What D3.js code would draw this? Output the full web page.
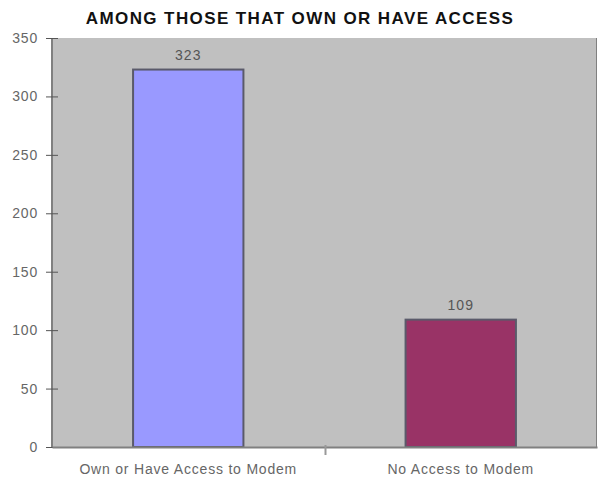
<!DOCTYPE html>
<html lang="en">
<head>
    <meta charset="UTF-8">
    <title>Among Those That Own or Have Access</title>
    <script src="https://d3js.org/d3.v7.min.js"></script>
    <style>
        body { margin: 0; background: #fff; font-family: Arial, "Liberation Sans", sans-serif; }
    </style>
</head>
<body>
    <div id="chart"></div>
    <script>
        // data
        const categories = ["Own or Have Access to Modem", "No Access to Modem"];
        const values = [323, 109];
        const colors = ["#9999ff", "#993366"];
        const yTicks = [0, 50, 100, 150, 200, 250, 300, 350];

        const width = 598, height = 484;
        const margin = { top: 38, right: 1, bottom: 37, left: 52 };
        const font = "Arial, 'Liberation Sans', sans-serif";

        const svg = d3.select("#chart")
            .append("svg")
            .attr("width", width)
            .attr("height", height);

        const x = d3.scaleBand()
            .domain(categories)
            .range([margin.left, width - margin.right])
            .paddingInner(0)
            .paddingOuter(0);

        const y = d3.scaleLinear()
            .domain([0, 350])
            .range([height - margin.bottom, margin.top]);

        // plot background
        svg.append("rect")
            .attr("x", margin.left)
            .attr("y", margin.top)
            .attr("width", width - margin.left - margin.right)
            .attr("height", y(0) - margin.top)
            .attr("fill", "#c0c0c0");

        // right edge line
        svg.append("line")
            .attr("x1", width - margin.right - 0.5)
            .attr("x2", width - margin.right - 0.5)
            .attr("y1", margin.top)
            .attr("y2", y(0))
            .attr("stroke", "#808080");

        // bars
        const barW = x.bandwidth() * 0.405;
        svg.selectAll(".bar")
            .data(values)
            .enter()
            .append("rect")
            .attr("class", "bar")
            .attr("x", (d, i) => x(categories[i]) + x.bandwidth() / 2 - barW / 2)
            .attr("y", d => y(d))
            .attr("width", barW)
            .attr("height", d => y(0) - y(d))
            .attr("fill", (d, i) => colors[i])
            .attr("stroke", "#5a5a6a")
            .attr("stroke-width", 2);

        // value labels
        svg.selectAll(".val")
            .data(values)
            .enter()
            .append("text")
            .attr("class", "val")
            .attr("x", (d, i) => x(categories[i]) + x.bandwidth() / 2)
            .attr("y", d => y(d) - 10)
            .attr("text-anchor", "middle")
            .attr("font-size", 14)
            .attr("letter-spacing", 1)
            .attr("fill", "#555")
            .text(d => d);

        // y axis
        const yAxis = svg.append("g")
            .attr("transform", `translate(${margin.left},0)`)
            .call(d3.axisLeft(y).tickValues(yTicks).tickSize(6).tickPadding(8));
        yAxis.select(".domain").attr("stroke", "#808080").attr("stroke-width", 2).attr("d", `M0,${margin.top}V${y(0)}`);
        yAxis.selectAll(".tick line").attr("stroke", "#555").attr("x2", 6).attr("x1", -6);
        yAxis.selectAll(".tick text").attr("font-size", 14).attr("letter-spacing", 0.8).attr("fill", "#666")
            .attr("font-family", font);

        // x axis
        const xAxis = svg.append("g")
            .attr("transform", `translate(0,${y(0)})`)
            .call(d3.axisBottom(x).tickSize(0).tickPadding(17));
        xAxis.select(".domain").attr("stroke", "#808080").attr("stroke-width", 2);
        xAxis.selectAll(".tick text").attr("font-size", 14).attr("letter-spacing", 0.8).attr("fill", "#666")
            .attr("font-family", font);

        // category separator tick
        svg.append("line")
            .attr("x1", x(categories[1]) + 1)
            .attr("x2", x(categories[1]) + 1)
            .attr("y1", y(0) - 2)
            .attr("y2", y(0) + 8)
            .attr("stroke", "#999")
            .attr("stroke-width", 2);

        // title
        svg.append("text")
            .attr("x", 300)
            .attr("y", 24)
            .attr("text-anchor", "middle")
            .attr("font-size", 17)
            .attr("font-weight", 900)
            .attr("letter-spacing", 1.4)
            .attr("fill", "#111")
            .attr("font-family", font)
            .text("AMONG THOSE THAT OWN OR HAVE ACCESS");
    </script>
</body>
</html>
